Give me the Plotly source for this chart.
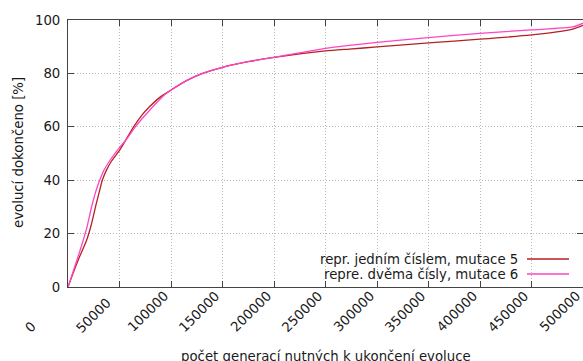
import plotly.graph_objects as go

# ---- data ----
red_x = [0, 5000, 11300, 17800, 22600, 27500, 30500, 33300, 37000, 42000, 50200,
         56000, 63700, 71800, 79100, 90000, 100000, 115000, 130700, 150000, 175000,
         200000, 250000, 273000, 300000, 350000, 400000, 450000, 480000, 490000, 500000]
red_y = [0, 5.2, 11.4, 17.2, 23.3, 31.3, 35.8, 40.0, 43.5, 47.0, 51.3,
         55.0, 60.0, 64.4, 67.5, 71.3, 73.8, 77.3, 80.0, 82.3, 84.4,
         86.0, 88.4, 89.1, 89.9, 91.4, 92.8, 94.4, 95.8, 96.6, 98.0]

pink_x = [0, 5000, 11300, 17800, 22600, 26000, 30000, 35000, 40000, 48000,
          57300, 65400, 75100, 86400, 94500, 100000, 115000, 130700, 150000, 175000,
          200000, 250000, 273000, 300000, 350000, 400000, 450000, 490000, 500000]
pink_y = [0, 5.8, 13.2, 21.5, 29.5, 34.5, 39.2, 43.8, 47.0, 51.3,
          55.6, 60.0, 64.4, 69.2, 72.2, 73.7, 77.3, 80.0, 82.3, 84.4,
          86.0, 89.4, 90.5, 91.6, 93.4, 95.0, 96.3, 97.4, 98.8]

series_names = ["repr. jedním číslem, mutace 5", "repre. dvěma čísly, mutace 6"]
series_colors = ["#b22222", "#ff44c4"]

x_ticks = [0, 50000, 100000, 150000, 200000, 250000, 300000, 350000, 400000, 450000, 500000]
x_tick_labels = ["0", "50000", "100000", "150000", "200000", "250000",
                 "300000", "350000", "400000", "450000", "500000"]
y_ticks = [0, 20, 40, 60, 80, 100]
y_tick_labels = ["0", "20", "40", "60", "80", "100"]

x_title = "počet generací nutných k ukončení evoluce"
y_title = "evolucí dokončeno [%]"

# ---- figure ----
W, H = 583, 361
ML, MR, MT, MB = 68, 0, 20, 74
PW, PH = W - ML - MR, H - MT - MB
FONT = "DejaVu Sans"
FS = 13.3
TXT = "#1a1a1a"

fig = go.Figure()
for xs, ys, name, col in [(red_x, red_y, series_names[0], series_colors[0]),
                          (pink_x, pink_y, series_names[1], series_colors[1])]:
    fig.add_trace(go.Scatter(x=xs, y=ys, mode="lines", name=name,
                             line=dict(color=col, width=1.3, shape="spline", smoothing=0.6),
                             showlegend=False))

def px2paper_x(px):
    return (px - ML) / PW

def px2paper_y(py):
    return (MT + PH - py) / PH

annotations = []
# rotated x tick labels (start anchored, as in the reference)
for v, t in zip(x_ticks, x_tick_labels):
    annotations.append(dict(x=v, xref="x", y=0, yref="paper", text=t, showarrow=False,
                            textangle=-45, xanchor="left", yanchor="bottom",
                            xshift=-49, yshift=-51,
                            font=dict(family=FONT, size=FS, color=TXT)))
# axis titles
annotations.append(dict(x=px2paper_x(326), y=px2paper_y(356), xref="paper", yref="paper",
                        text=x_title, showarrow=False, xanchor="center", yanchor="middle",
                        font=dict(family=FONT, size=FS, color=TXT)))
annotations.append(dict(x=px2paper_x(18), y=px2paper_y(153), xref="paper", yref="paper",
                        text=y_title, showarrow=False, textangle=-90,
                        xanchor="center", yanchor="middle",
                        font=dict(family=FONT, size=FS, color=TXT)))

# legend (text right aligned, sample line to the right, as gnuplot draws it)
shapes = [dict(type="rect", xref="paper", yref="paper",
               x0=px2paper_x(268), x1=1.0, y0=px2paper_y(286), y1=px2paper_y(253),
               fillcolor="white", line=dict(width=0), layer="between")]
leg_y = [259, 274]
for name, col, ly in zip(series_names, series_colors, leg_y):
    annotations.append(dict(x=px2paper_x(520), y=px2paper_y(ly), xref="paper", yref="paper",
                            text=name, showarrow=False, xanchor="right", yanchor="middle",
                            font=dict(family=FONT, size=FS, color=TXT)))
    shapes.append(dict(type="line", xref="paper", yref="paper",
                       x0=px2paper_x(527), x1=px2paper_x(569),
                       y0=px2paper_y(ly), y1=px2paper_y(ly),
                       line=dict(color=col, width=1.3), layer="above"))

axis_common = dict(showline=True, linecolor="#444", linewidth=1, mirror="ticks",
                   ticks="inside", ticklen=6, tickcolor="#444", tickwidth=1,
                   showgrid=True, gridcolor="#b8b8b8", gridwidth=1, griddash="1px,2px",
                   zeroline=False)

fig.update_layout(
    width=W, height=H,
    margin=dict(l=ML, r=MR, t=MT, b=MB),
    paper_bgcolor="white", plot_bgcolor="white",
    font=dict(family=FONT, size=FS, color=TXT),
    xaxis=dict(range=[0, 500000], tickvals=x_ticks, showticklabels=False, **axis_common),
    yaxis=dict(range=[0, 100], tickvals=y_ticks, ticktext=y_tick_labels,
               tickfont=dict(family=FONT, size=FS, color=TXT),
               ticklabelstandoff=4, **axis_common),
    annotations=annotations,
    shapes=shapes,
    showlegend=False,
)

fig.write_html("out.html")
